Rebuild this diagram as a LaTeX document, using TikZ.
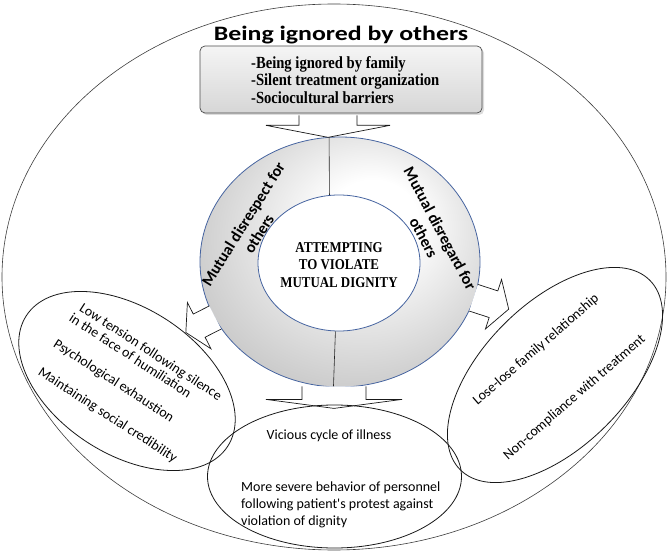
\documentclass[tikz,border=0pt]{standalone}
\usepackage{fontspec}
\setmainfont{Liberation Serif}
\newfontfamily\calibri{Carlito}
\usepackage{tikz}
\usetikzlibrary{shapes.geometric, positioning, calc, shadows}
\definecolor{mydark}{RGB}{25,25,25}
\definecolor{ringblue}{RGB}{70,100,160}
\colorlet{ringdark}{gray!52}
\pgfdeclareradialshading{ringshade}{\pgfpoint{7bp}{10bp}}{color(0bp)=(white); color(8bp)=(white); color(36bp)=(ringdark); color(50bp)=(ringdark)}
\tikzset{
  headline/.style={font=\calibri\bfseries\fontsize{20.5}{24}\selectfont,
    inner sep=1pt, xscale=1.26},
  topbox/.style={rectangle, draw=gray!60!black, top color=gray!8,
    bottom color=gray!32, rounded corners=5pt, minimum width=282pt,
    minimum height=67pt, line width=0.7pt,
    drop shadow={shadow xshift=2pt, shadow yshift=-2pt, fill=gray!55}},
  listtext/.style={font=\bfseries\fontsize{17}{17.5}\selectfont,
    align=left, inner sep=0pt, xscale=0.86},
  oval/.style={ellipse, draw=mydark, line width=0.8pt, inner sep=0pt},
  ringtext/.style={font=\calibri\bfseries\fontsize{16}{18.5}\selectfont,
    align=center, inner sep=0pt},
  coretext/.style={font=\bfseries\fontsize{15}{17.5}\selectfont,
    align=center, inner sep=0pt, xscale=0.86},
  ovaltext/.style={font=\calibri\fontsize{14}{17}\selectfont, inner sep=0pt},
  blockarrow/.style={draw=mydark, fill=white, line width=0.7pt},
  divider/.style={draw=gray!30!black, line width=0.6pt}
}

\begin{document}
\begin{tikzpicture}[x=1pt, y=-1pt]
  \useasboundingbox (0,0) rectangle (669,553);

  % Outer frame
  \node[oval, draw=mydark!85, line width=0.6pt, minimum width=664pt,
    minimum height=546pt] (frame) at (334,277) {};

  % Top: title and list
  \node[topbox] (box) at (341,79.5) {};
  \node[listtext, anchor=west] (list) at (251,80)
    {-Being ignored by family\\-Silent treatment organization\\-Sociocultural barriers};
  \node[headline, above=0pt of box] (title) {Being ignored by others};

  % Ring in the middle
  \node[ellipse, draw=ringblue, line width=0.8pt, shading=ringshade,
    minimum width=280pt, minimum height=250pt, inner sep=0pt] (ring) at (340,262) {};
  \node[ellipse, draw=ringblue, line width=0.8pt, fill=white,
    minimum width=162pt, minimum height=136pt, inner sep=0pt] (hole) at (339,263) {};
  \draw[divider] (ring.95) -- (hole.98);
  \draw[divider] (hole.267) -- (ring.267);

  % Block arrows
  \draw[blockarrow, shift={([xshift=-13pt, yshift=-2pt]box.south)}, rotate=-90]
    (0,29) -- (10,29) -- (10,62) -- (22,0) -- (10,-62) -- (10,-29) -- (0,-29);
  \draw[blockarrow, shift={(ring.204)}, rotate=207]
    (-1,13) -- (17,13) -- (17,26) -- (32,0) -- (17,-26) -- (17,-13) -- (-1,-13);
  \draw[blockarrow, shift={(ring.-15)}, rotate=-18]
    (-1,14) -- (20,14) -- (20,26) -- (36,0) -- (20,-26) -- (20,-14) -- (-1,-14);
  \draw[blockarrow, shift={([xshift=-6pt]ring.south)}, rotate=-90]
    (-1,32) -- (12,32) -- (12,68) -- (21,0) -- (12,-68) -- (12,-32) -- (-1,-32);

  % Outcome ovals
  \node[oval, minimum width=240pt, minimum height=146pt, rotate=-33] (leftoval) at (127,381) {};
  \node[oval, minimum width=268pt, minimum height=144pt, rotate=45] (rightoval) at (555,375) {};
  \node[oval, minimum width=254pt, minimum height=143pt] (bottomoval) at (334.5,476.5) {};

  % Texts
  \node[ringtext, rotate=58] (disrespect) at (251,229) {Mutual disrespect for\\others};
  \node[ringtext, rotate=-62] (disregard) at (432,233) {Mutual disregard for\\others};
  \node[coretext] (core) at (339,265) {ATTEMPTING\\TO VIOLATE\\MUTUAL DIGNITY};

  \node[ovaltext, rotate=-33] (lowtension) at (150.5,352.5) {Low tension following silence};
  \node[ovaltext, rotate=-33] (humiliation) at (130.5,355.5) {in the face of humiliation};
  \node[ovaltext, rotate=-33] (exhaustion) at (113.5,381.5) {Psychological exhaustion};
  \node[ovaltext, rotate=-33] (credibility) at (107.5,415.5) {Maintaining social credibility};

  \node[ovaltext, rotate=41] (loselose) at (536,350) {Lose-lose family relationship};
  \node[ovaltext, rotate=41] (noncompliance) at (574.5,397.5) {Non-compliance with treatment};

  \node[ovaltext] (vicious) at (329,436) {Vicious cycle of illness};
  \node[ovaltext, align=left, anchor=west] (severe) at (241,504.5)
    {More severe behavior of personnel\\following patient's protest against\\violation of dignity};
\end{tikzpicture}
\end{document}
